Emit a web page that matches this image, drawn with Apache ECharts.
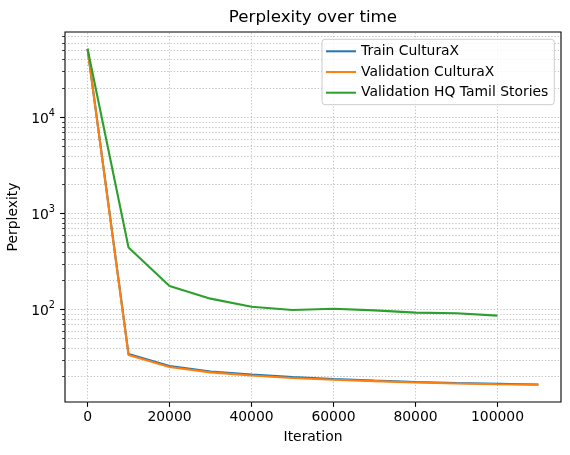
<!DOCTYPE html>
<html>
<head>
<meta charset="utf-8">
<script src="https://cdn.jsdelivr.net/npm/echarts@6/dist/echarts.min.js"></script>
<style>
html,body{margin:0;padding:0;background:#fff;}
#chart{width:570px;height:455px;}
</style>
</head>
<body>
<div id="chart"></div>
<script>
// ---- data ----
const iterations = [0, 10000, 20000, 30000, 40000, 50000, 60000, 70000, 80000, 90000, 100000, 110000];
const trainCulturaX = [52000, 34.4, 25.8, 22.6, 21.0, 19.8, 18.9, 18.2, 17.6, 17.2, 16.9, 16.6];
const valCulturaX   = [52000, 33.6, 25.2, 22.2, 20.6, 19.4, 18.6, 18.0, 17.4, 17.0, 16.7, 16.5];
const valHQTamil    = [52000, 444, 176, 130, 107, 99, 102, 98, 93, 91.5, 86.5];
const xTicks = [0, 20000, 40000, 60000, 80000, 100000];
const yMajorTicks = [100, 1000, 10000];
const seriesNames = ['Train CulturaX', 'Validation CulturaX', 'Validation HQ Tamil Stories'];

const yMin = 10.9, yMax = 77800;
const xMin = -5500, xMax = 115500;

// minor log ticks 2..9 x 10^n inside range
const yMinorTicks = [];
for (let e = 1; e <= 4; e++) {
  for (let m = 2; m <= 9; m++) {
    const v = m * Math.pow(10, e);
    if (v > yMin && v < yMax) yMinorTicks.push(v);
  }
}
const yGrid = yMinorTicks.concat(yMajorTicks);

const FONT = 'DejaVu Sans';
const colors = ['#1f77b4', '#ff7f0e', '#2ca02c'];

function pairs(xs, ys) { return ys.map((y, i) => [xs[i], y]); }

const gridLineStyle = { color: '#b0b0b0', width: 0.8, type: [1.2, 2] };

const chart = echarts.init(document.getElementById('chart'), null, { renderer: 'canvas' });
chart.setOption({
  animation: false,
  backgroundColor: '#ffffff',
  textStyle: { fontFamily: FONT },
  title: {
    text: 'Perplexity over time',
    left: 313, top: 9, padding: 0, textAlign: 'center',
    textStyle: { fontFamily: FONT, fontSize: 16.7, fontWeight: 'normal', color: '#000' }
  },
  legend: {
    data: seriesNames,
    orient: 'vertical',
    right: 15.7, top: 39.3,
    padding: [5, 6, 5, 4],
    itemGap: 6.7,
    itemWidth: 30, itemHeight: 2,
    icon: 'rect',
    backgroundColor: 'rgba(255,255,255,0.8)',
    borderColor: '#cccccc', borderWidth: 1, borderRadius: 3,
    textStyle: { fontFamily: FONT, fontSize: 13.9, color: '#000', padding: [0, 0, 0, 0] }
  },
  grid: {
    left: 65, right: 9, top: 32, bottom: 53,
    outerBoundsMode: 'none', containLabel: false,
    show: true, borderColor: '#000', borderWidth: 1.1, backgroundColor: 'transparent'
  },
  xAxis: {
    type: 'value', min: xMin, max: xMax,
    name: 'Iteration', nameLocation: 'middle', nameGap: 28,
    nameTextStyle: { fontFamily: FONT, fontSize: 13.9, color: '#000', verticalAlign: 'top' },
    axisLine: { show: false, onZero: false },
    axisTick: { show: true, customValues: xTicks, length: 4.9, lineStyle: { color: '#000', width: 1.1 } },
    axisLabel: { customValues: xTicks, margin: 8, fontFamily: FONT, fontSize: 13.9, color: '#000',
      formatter: v => String(v) },
    splitLine: { show: false }
  },
  yAxis: [{
    type: 'log', logBase: 10, min: yMin, max: yMax,
    name: 'Perplexity', nameLocation: 'middle', nameGap: 37,
    nameTextStyle: { fontFamily: FONT, fontSize: 13.9, color: '#000' },
    axisLine: { show: false, onZero: false },
    axisTick: { show: true, customValues: yMajorTicks, length: 4.9, lineStyle: { color: '#000', width: 1.1 } },
    axisLabel: {
      customValues: yMajorTicks, margin: 10,
      formatter: v => '{b|10}{s|' + Math.round(Math.log10(v)) + '}',
      rich: {
        b: { fontFamily: FONT, fontSize: 13.9, color: '#000', lineHeight: 18, verticalAlign: 'bottom' },
        s: { fontFamily: FONT, fontSize: 9.7, color: '#000', lineHeight: 18, verticalAlign: 'top' }
      }
    },
    splitLine: { show: false }
  }, {
    type: 'log', logBase: 10, min: yMin, max: yMax, position: 'left',
    axisLine: { show: false, onZero: false },
    axisTick: { show: true, customValues: yMinorTicks, length: 2.8, lineStyle: { color: '#000', width: 0.8 } },
    axisLabel: { show: false },
    splitLine: { show: false }
  }],
  series: [
    {
      name: 'grid', type: 'line', data: [], silent: true, z: 1,
      markLine: {
        silent: true, symbol: ['none', 'none'], z: 1, animation: false,
        label: { show: false }, emphasis: { disabled: true },
        lineStyle: gridLineStyle,
        data: yGrid.map(v => ({ yAxis: v })).concat(xTicks.map(v => ({ xAxis: v })))
      }
    },
    {
      name: seriesNames[0], type: 'line', data: pairs(iterations, trainCulturaX),
      showSymbol: false, symbol: 'none', z: 3,
      lineStyle: { color: colors[0], width: 2.1 }, itemStyle: { color: colors[0] }
    },
    {
      name: seriesNames[1], type: 'line', data: pairs(iterations, valCulturaX),
      showSymbol: false, symbol: 'none', z: 4,
      lineStyle: { color: colors[1], width: 2.1 }, itemStyle: { color: colors[1] }
    },
    {
      name: seriesNames[2], type: 'line', data: pairs(iterations, valHQTamil),
      showSymbol: false, symbol: 'none', z: 5,
      lineStyle: { color: colors[2], width: 2.1 }, itemStyle: { color: colors[2] }
    }
  ]
});
</script>
</body>
</html>
